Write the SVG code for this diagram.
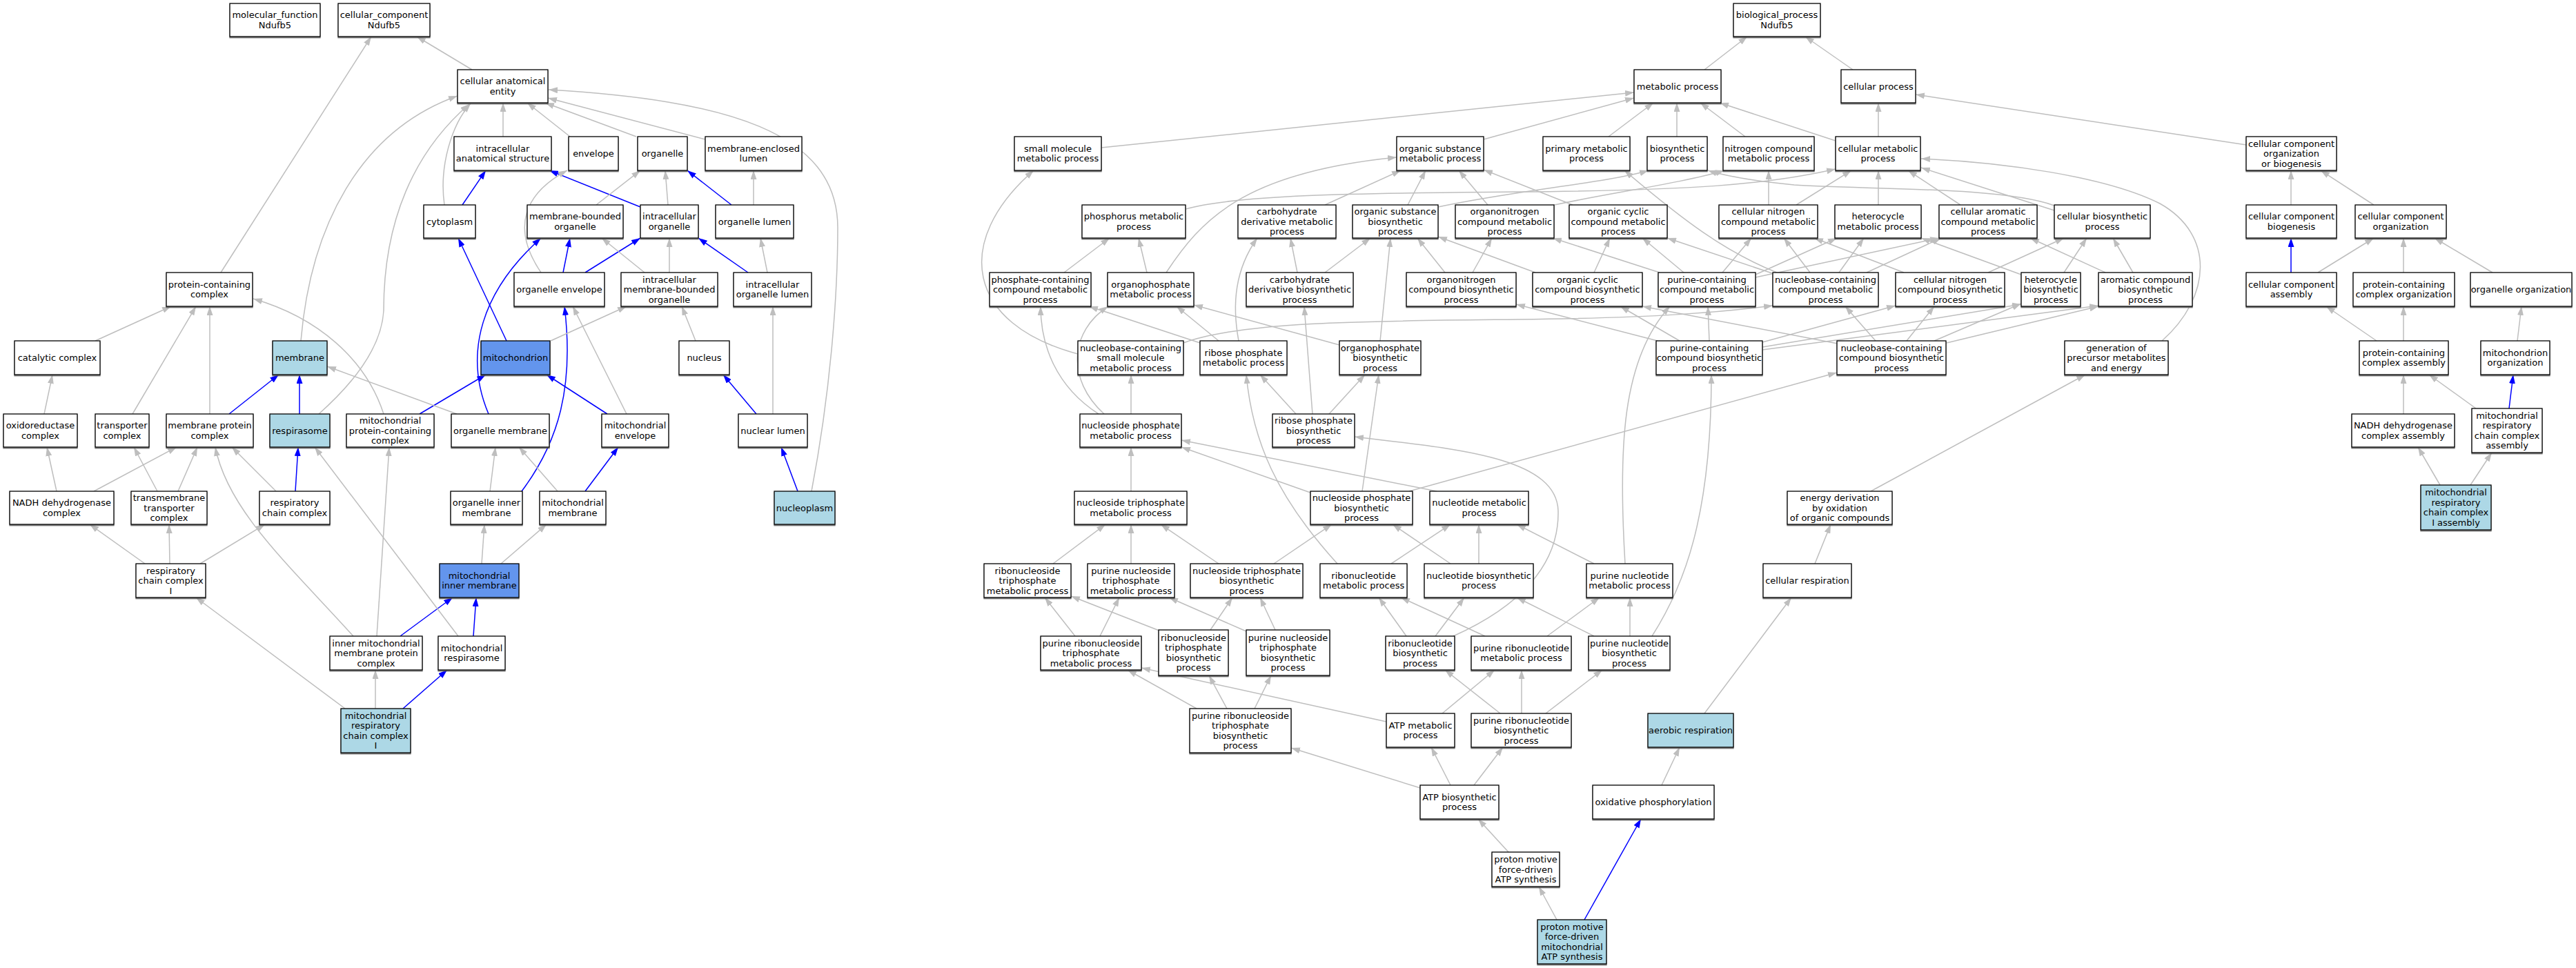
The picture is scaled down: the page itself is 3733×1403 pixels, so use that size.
<svg xmlns="http://www.w3.org/2000/svg" width="3733" height="1403" viewBox="0 0 3733 1403">
<defs>
<style>
.n rect{fill:#fff;stroke:#000;stroke-width:1.3;filter:url(#sh)}
.n.lb rect{fill:#add8e6}
.n.cb rect{fill:#6495ed}
text{font-family:"DejaVu Sans","Liberation Sans",sans-serif;font-size:13px;text-anchor:middle;fill:#000}
.g{fill:none;stroke:#bebebe;stroke-width:1.5;marker-end:url(#ag)}
.b{fill:none;stroke:#0000ff;stroke-width:1.5;marker-end:url(#ab)}
</style>
<filter id="sh" x="-5%" y="-10%" width="110%" height="130%"><feDropShadow dx="0" dy="1.5" stdDeviation="0" flood-color="#555"/></filter>
<marker id="ag" markerUnits="userSpaceOnUse" markerWidth="13" markerHeight="9" viewBox="0 0 13 9" refX="13" refY="4.5" orient="auto"><path d="M0,0 L13,4.5 L0,9 z" fill="#bebebe"/></marker>
<marker id="ab" markerUnits="userSpaceOnUse" markerWidth="13" markerHeight="9" viewBox="0 0 13 9" refX="13" refY="4.5" orient="auto"><path d="M0,0 L13,4.5 L0,9 z" fill="#0000ff"/></marker>
</defs>
<rect width="3733" height="1403" fill="#fff"/>
<g id="edges">
<path class="g" d="M684,101 L604,53"/>
<path class="g" d="M320,395 L538,53"/>
<path class="g" d="M729,198 L729,149"/>
<path class="g" d="M826,198 L764,149"/>
<path class="g" d="M922,198 L790,149"/>
<path class="g" d="M1022,202 L794,142"/>
<path class="g" d="M644,297 C636,240 655,180 682,150"/>
<path class="g" d="M436,494 C450,330 520,190 663,139"/>
<path class="g" d="M462,600 Q552,520 556,450 C556,320 600,220 680,151"/>
<path class="g" d="M1176,712 C1205,560 1214,420 1214,330 C1214,190 1050,145 795,130"/>
<path class="b" d="M670,297 L704,247"/>
<path class="b" d="M928,300 L796,247"/>
<path class="g" d="M968,297 L964,247"/>
<path class="g" d="M864,297 L928,247"/>
<path class="b" d="M1060,297 L996,247"/>
<path class="g" d="M1092,297 L1092,247"/>
<path class="g" d="M784,395 C740,330 760,280 822,247"/>
<path class="b" d="M816,395 L826,345"/>
<path class="b" d="M848,395 L928,345"/>
<path class="g" d="M934,395 L872,345"/>
<path class="g" d="M970,395 L970,345"/>
<path class="b" d="M1084,395 L1012,345"/>
<path class="g" d="M1112,395 L1102,345"/>
<path class="b" d="M734,494 L664,345"/>
<path class="b" d="M708,600 C670,510 700,420 784,345"/>
<path class="b" d="M756,712 C810,640 832,560 818,444"/>
<path class="g" d="M798,494 L908,444"/>
<path class="g" d="M908,600 L830,444"/>
<path class="b" d="M880,600 L792,543"/>
<path class="g" d="M1008,494 L988,444"/>
<path class="b" d="M1096,600 L1048,543"/>
<path class="g" d="M1120,600 L1120,444"/>
<path class="b" d="M1156,712 L1132,648"/>
<path class="b" d="M608,600 L704,543"/>
<path class="g" d="M556,600 C530,520 460,460 367,433"/>
<path class="g" d="M662,600 L474,531"/>
<path class="b" d="M332,600 L404,543"/>
<path class="b" d="M434,600 L434,543"/>
<path class="g" d="M304,600 L304,444"/>
<path class="g" d="M192,600 L284,444"/>
<path class="g" d="M138,494 L248,444"/>
<path class="g" d="M64,600 L76,543"/>
<path class="g" d="M82,712 L68,648"/>
<path class="g" d="M136,712 L256,648"/>
<path class="g" d="M228,712 L194,648"/>
<path class="g" d="M258,712 L286,648"/>
<path class="g" d="M400,712 L336,648"/>
<path class="b" d="M428,712 L432,648"/>
<path class="g" d="M210,817 L130,760"/>
<path class="g" d="M246,817 L245,760"/>
<path class="g" d="M290,817 L384,760"/>
<path class="g" d="M710,712 L718,648"/>
<path class="g" d="M808,712 L752,648"/>
<path class="b" d="M848,712 L896,648"/>
<path class="g" d="M698,817 L702,760"/>
<path class="g" d="M726,817 L792,760"/>
<path class="b" d="M580,922 L656,866"/>
<path class="g" d="M512,922 C420,820 330,740 312,648"/>
<path class="g" d="M546,922 L564,648"/>
<path class="b" d="M686,922 L690,866"/>
<path class="g" d="M664,922 L456,648"/>
<path class="g" d="M544,1027 L544,971"/>
<path class="b" d="M584,1027 L648,971"/>
<path class="g" d="M500,1027 L284,866"/>
<path class="g" d="M2470,101 L2532,53"/>
<path class="g" d="M2685,101 L2616,53"/>
<path class="g" d="M1596,214 L2368,134"/>
<path class="g" d="M2150,202 L2368,142"/>
<path class="g" d="M2331,198 L2396,149"/>
<path class="g" d="M2430,198 L2430,149"/>
<path class="g" d="M2529,198 L2464,149"/>
<path class="g" d="M2660,204 L2492,149"/>
<path class="g" d="M2722,198 L2722,149"/>
<path class="g" d="M3255,210 L2776,137"/>
<path class="g" d="M1718,303 C1800,280 2000,280 2200,278 C2450,276 2560,268 2660,245"/>
<path class="g" d="M1920,297 L2030,247"/>
<path class="g" d="M2040,297 L2066,247"/>
<path class="g" d="M2084,300 C2200,275 2330,265 2389,247"/>
<path class="g" d="M2156,297 L2114,247"/>
<path class="g" d="M2248,298 C2330,280 2440,265 2499,247"/>
<path class="g" d="M2279,297 L2150,246"/>
<path class="g" d="M2977,298 C2900,270 2700,275 2600,268 C2540,262 2500,255 2475,247"/>
<path class="g" d="M2563,297 L2563,247"/>
<path class="g" d="M2603,297 L2683,247"/>
<path class="g" d="M2722,297 L2722,247"/>
<path class="g" d="M2841,297 L2765,247"/>
<path class="g" d="M2977,305 L2784,243"/>
<path class="g" d="M3133,494 C3205,430 3210,340 3130,295 C3050,255 2900,235 2784,230"/>
<path class="g" d="M3320,297 L3320,247"/>
<path class="g" d="M3440,297 L3363,247"/>
<path class="g" d="M1542,395 L1608,345"/>
<path class="g" d="M1662,395 L1650,345"/>
<path class="g" d="M1690,395 C1740,320 1800,250 2024,228"/>
<path class="g" d="M1880,395 L1870,345"/>
<path class="g" d="M1920,395 L1986,345"/>
<path class="g" d="M2094,395 L2054,345"/>
<path class="g" d="M2134,395 L2162,345"/>
<path class="g" d="M2225,395 L2084,343"/>
<path class="g" d="M2310,395 L2333,345"/>
<path class="g" d="M2440,395 L2380,345"/>
<path class="g" d="M2405,395 L2250,345"/>
<path class="g" d="M2496,395 L2538,345"/>
<path class="g" d="M2544,398 L2662,345"/>
<path class="g" d="M2544,402 L2810,345"/>
<path class="g" d="M2623,395 L2585,345"/>
<path class="g" d="M2665,395 L2701,345"/>
<path class="g" d="M2705,395 L2813,345"/>
<path class="g" d="M2571,397 L2416,345"/>
<path class="g" d="M2575,395 C2500,365 2440,320 2354,247"/>
<path class="g" d="M2759,395 L2629,345"/>
<path class="g" d="M2881,395 L2991,345"/>
<path class="g" d="M2929,398 L2784,345"/>
<path class="g" d="M2991,395 L3024,345"/>
<path class="g" d="M3051,395 L2942,345"/>
<path class="g" d="M3091,395 L3062,345"/>
<path class="b" d="M3320,395 L3320,345"/>
<path class="g" d="M3359,395 L3440,345"/>
<path class="g" d="M3483,395 L3483,345"/>
<path class="g" d="M3612,395 L3528,345"/>
<path class="g" d="M1562,513 C1400,470 1380,350 1498,247"/>
<path class="g" d="M1715,497 C1800,465 2000,465 2200,463 C2400,461 2500,452 2569,443"/>
<path class="g" d="M1766,494 L1705,444"/>
<path class="g" d="M1795,494 C1785,440 1790,390 1822,345"/>
<path class="g" d="M1739,497 L1578,444"/>
<path class="g" d="M1941,500 L1730,442"/>
<path class="g" d="M2000,494 L2015,345"/>
<path class="g" d="M2477,494 L2475,444"/>
<path class="g" d="M2434,494 L2348,444"/>
<path class="g" d="M2402,494 L2197,441"/>
<path class="g" d="M2554,496 L2747,443"/>
<path class="g" d="M2554,503 L2929,441"/>
<path class="g" d="M2554,507 L3041,443"/>
<path class="g" d="M2718,494 L2674,444"/>
<path class="g" d="M2763,494 L2803,444"/>
<path class="g" d="M2803,494 L2929,440"/>
<path class="g" d="M2821,497 L3041,444"/>
<path class="g" d="M2663,498 L2380,444"/>
<path class="g" d="M2711,712 L3022,543"/>
<path class="g" d="M3444,494 L3371,444"/>
<path class="g" d="M3483,494 L3483,444"/>
<path class="g" d="M3648,494 L3654,444"/>
<path class="g" d="M1639,600 L1639,543"/>
<path class="g" d="M1592,600 C1530,560 1508,500 1508,444"/>
<path class="g" d="M1600,600 C1545,550 1550,480 1606,444"/>
<path class="g" d="M1878,600 L1826,543"/>
<path class="g" d="M1926,600 L1978,543"/>
<path class="g" d="M1902,600 L1890,444"/>
<path class="g" d="M3483,600 L3483,543"/>
<path class="g" d="M3588,592 L3520,543"/>
<path class="b" d="M3636,592 L3642,543"/>
<path class="g" d="M1639,712 L1639,648"/>
<path class="g" d="M1899,714 L1712,648"/>
<path class="g" d="M1974,712 L1998,543"/>
<path class="g" d="M2042,712 L2662,540"/>
<path class="g" d="M2082,712 L1712,638"/>
<path class="g" d="M3536,703 L3504,648"/>
<path class="g" d="M3580,703 L3611,656"/>
<path class="g" d="M1526,817 L1602,760"/>
<path class="g" d="M1639,817 L1639,760"/>
<path class="g" d="M1766,817 L1682,760"/>
<path class="g" d="M1846,817 L1930,760"/>
<path class="g" d="M2016,817 L2102,760"/>
<path class="g" d="M2143,817 L2143,760"/>
<path class="g" d="M2102,817 L2018,760"/>
<path class="g" d="M2310,817 L2198,760"/>
<path class="g" d="M2355,817 C2345,650 2350,520 2420,444"/>
<path class="g" d="M1938,817 C1850,720 1815,640 1806,543"/>
<path class="g" d="M2630,817 L2653,760"/>
<path class="g" d="M1558,922 L1514,866"/>
<path class="g" d="M1594,922 L1622,866"/>
<path class="g" d="M1680,914 L1552,864"/>
<path class="g" d="M1754,913 L1786,866"/>
<path class="g" d="M1806,915 L1694,866"/>
<path class="g" d="M1848,913 L1826,866"/>
<path class="g" d="M2038,922 L1998,866"/>
<path class="g" d="M2080,922 L2122,866"/>
<path class="g" d="M2152,922 L2030,866"/>
<path class="g" d="M2242,922 L2318,866"/>
<path class="g" d="M2310,922 L2198,866"/>
<path class="g" d="M2362,922 L2362,866"/>
<path class="g" d="M2394,922 C2440,850 2480,750 2480,543"/>
<path class="g" d="M2106,922 C2200,880 2260,820 2258,740 C2255,660 2100,650 1963,633"/>
<path class="g" d="M1734,1027 L1634,971"/>
<path class="g" d="M1778,1027 L1752,979"/>
<path class="g" d="M1818,1027 L1842,979"/>
<path class="g" d="M2009,1046 L1654,968"/>
<path class="g" d="M2090,1034 L2166,971"/>
<path class="g" d="M2174,1034 L2094,971"/>
<path class="g" d="M2205,1034 L2205,971"/>
<path class="g" d="M2240,1034 L2322,971"/>
<path class="g" d="M2102,1138 L2074,1083"/>
<path class="g" d="M2136,1138 L2178,1083"/>
<path class="g" d="M2058,1142 L1871,1084"/>
<path class="g" d="M2186,1235 L2142,1187"/>
<path class="g" d="M2256,1333 L2230,1285"/>
<path class="b" d="M2296,1333 L2378,1187"/>
<path class="g" d="M2408,1138 L2434,1083"/>
<path class="g" d="M2470,1034 L2596,866"/>
</g>
<g id="n_mf" class="n"><rect x="333" y="5" width="131" height="48"/><text><tspan x="398.5" y="26.25">molecular_function</tspan><tspan x="398.5" y="40.75">Ndufb5</tspan></text></g>
<g id="n_cc" class="n"><rect x="490" y="5" width="133" height="48"/><text><tspan x="556.5" y="26.25">cellular_component</tspan><tspan x="556.5" y="40.75">Ndufb5</tspan></text></g>
<g id="n_cae" class="n"><rect x="663" y="101" width="131" height="48"/><text><tspan x="728.5" y="122.25">cellular anatomical</tspan><tspan x="728.5" y="136.75">entity</tspan></text></g>
<g id="n_ias" class="n"><rect x="658" y="198" width="141" height="49"/><text><tspan x="728.5" y="219.75">intracellular</tspan><tspan x="728.5" y="234.25">anatomical structure</tspan></text></g>
<g id="n_env" class="n"><rect x="824" y="198" width="72" height="49"/><text x="860" y="227">envelope</text></g>
<g id="n_org" class="n"><rect x="924" y="198" width="72" height="49"/><text x="960" y="227">organelle</text></g>
<g id="n_mel" class="n"><rect x="1022" y="198" width="140" height="49"/><text><tspan x="1092" y="219.75">membrane-enclosed</tspan><tspan x="1092" y="234.25">lumen</tspan></text></g>
<g id="n_cyt" class="n"><rect x="614" y="297" width="75" height="48"/><text x="651.5" y="325.5">cytoplasm</text></g>
<g id="n_mbo" class="n"><rect x="764" y="297" width="139" height="48"/><text><tspan x="833.5" y="318.25">membrane-bounded</tspan><tspan x="833.5" y="332.75">organelle</tspan></text></g>
<g id="n_io" class="n"><rect x="928" y="297" width="84" height="48"/><text><tspan x="970" y="318.25">intracellular</tspan><tspan x="970" y="332.75">organelle</tspan></text></g>
<g id="n_ol" class="n"><rect x="1037" y="297" width="113" height="48"/><text x="1093.5" y="325.5">organelle lumen</text></g>
<g id="n_pcc" class="n"><rect x="241" y="395" width="125" height="49"/><text><tspan x="303.5" y="416.75">protein-containing</tspan><tspan x="303.5" y="431.25">complex</tspan></text></g>
<g id="n_oe" class="n"><rect x="745" y="395" width="131" height="49"/><text x="810.5" y="424">organelle envelope</text></g>
<g id="n_imbo" class="n"><rect x="900" y="395" width="140" height="49"/><text><tspan x="970" y="409.5">intracellular</tspan><tspan x="970" y="424">membrane-bounded</tspan><tspan x="970" y="438.5">organelle</tspan></text></g>
<g id="n_iol" class="n"><rect x="1063" y="395" width="113" height="49"/><text><tspan x="1119.5" y="416.75">intracellular</tspan><tspan x="1119.5" y="431.25">organelle lumen</tspan></text></g>
<g id="n_cat" class="n"><rect x="21" y="494" width="124" height="49"/><text x="83" y="523">catalytic complex</text></g>
<g id="n_mem" class="n lb"><rect x="395" y="494" width="79" height="49"/><text x="434.5" y="523">membrane</text></g>
<g id="n_mito" class="n cb"><rect x="697" y="494" width="100" height="49"/><text x="747" y="523">mitochondrion</text></g>
<g id="n_nuc" class="n"><rect x="984" y="494" width="73" height="49"/><text x="1020.5" y="523">nucleus</text></g>
<g id="n_oxc" class="n"><rect x="5" y="600" width="107" height="48"/><text><tspan x="58.5" y="621.25">oxidoreductase</tspan><tspan x="58.5" y="635.75">complex</tspan></text></g>
<g id="n_trc" class="n"><rect x="138" y="600" width="78" height="48"/><text><tspan x="177" y="621.25">transporter</tspan><tspan x="177" y="635.75">complex</tspan></text></g>
<g id="n_mpc" class="n"><rect x="241" y="600" width="126" height="48"/><text><tspan x="304" y="621.25">membrane protein</tspan><tspan x="304" y="635.75">complex</tspan></text></g>
<g id="n_resp" class="n lb"><rect x="391" y="600" width="87" height="48"/><text x="434.5" y="628.5">respirasome</text></g>
<g id="n_mpcc" class="n"><rect x="502" y="600" width="127" height="48"/><text><tspan x="565.5" y="614">mitochondrial</tspan><tspan x="565.5" y="628.5">protein-containing</tspan><tspan x="565.5" y="643">complex</tspan></text></g>
<g id="n_om" class="n"><rect x="654" y="600" width="142" height="48"/><text x="725" y="628.5">organelle membrane</text></g>
<g id="n_me" class="n"><rect x="872" y="600" width="97" height="48"/><text><tspan x="920.5" y="621.25">mitochondrial</tspan><tspan x="920.5" y="635.75">envelope</tspan></text></g>
<g id="n_nl" class="n"><rect x="1070" y="600" width="100" height="48"/><text x="1120" y="628.5">nuclear lumen</text></g>
<g id="n_nadh" class="n"><rect x="14" y="712" width="151" height="48"/><text><tspan x="89.5" y="733.25">NADH dehydrogenase</tspan><tspan x="89.5" y="747.75">complex</tspan></text></g>
<g id="n_tmtc" class="n"><rect x="190" y="712" width="110" height="48"/><text><tspan x="245" y="726">transmembrane</tspan><tspan x="245" y="740.5">transporter</tspan><tspan x="245" y="755">complex</tspan></text></g>
<g id="n_rcc" class="n"><rect x="376" y="712" width="102" height="48"/><text><tspan x="427" y="733.25">respiratory</tspan><tspan x="427" y="747.75">chain complex</tspan></text></g>
<g id="n_oim" class="n"><rect x="653" y="712" width="104" height="48"/><text><tspan x="705" y="733.25">organelle inner</tspan><tspan x="705" y="747.75">membrane</tspan></text></g>
<g id="n_mm" class="n"><rect x="782" y="712" width="96" height="48"/><text><tspan x="830" y="733.25">mitochondrial</tspan><tspan x="830" y="747.75">membrane</tspan></text></g>
<g id="n_np" class="n lb"><rect x="1122" y="712" width="88" height="48"/><text x="1166" y="740.5">nucleoplasm</text></g>
<g id="n_rcc1" class="n"><rect x="197" y="817" width="101" height="49"/><text><tspan x="247.5" y="831.5">respiratory</tspan><tspan x="247.5" y="846">chain complex</tspan><tspan x="247.5" y="860.5">I</tspan></text></g>
<g id="n_mim" class="n cb"><rect x="637" y="817" width="115" height="49"/><text><tspan x="694.5" y="838.75">mitochondrial</tspan><tspan x="694.5" y="853.25">inner membrane</tspan></text></g>
<g id="n_immpc" class="n"><rect x="478" y="922" width="134" height="49"/><text><tspan x="545" y="936.5">inner mitochondrial</tspan><tspan x="545" y="951">membrane protein</tspan><tspan x="545" y="965.5">complex</tspan></text></g>
<g id="n_mresp" class="n"><rect x="635" y="922" width="97" height="49"/><text><tspan x="683.5" y="943.75">mitochondrial</tspan><tspan x="683.5" y="958.25">respirasome</tspan></text></g>
<g id="n_mrcc1" class="n lb"><rect x="494" y="1027" width="101" height="64"/><text><tspan x="544.5" y="1041.75">mitochondrial</tspan><tspan x="544.5" y="1056.25">respiratory</tspan><tspan x="544.5" y="1070.75">chain complex</tspan><tspan x="544.5" y="1085.25">I</tspan></text></g>
<g id="n_bp" class="n"><rect x="2512" y="5" width="126" height="48"/><text><tspan x="2575" y="26.25">biological_process</tspan><tspan x="2575" y="40.75">Ndufb5</tspan></text></g>
<g id="n_mp" class="n"><rect x="2368" y="101" width="126" height="48"/><text x="2431" y="129.5">metabolic process</text></g>
<g id="n_cp" class="n"><rect x="2668" y="101" width="108" height="48"/><text x="2722" y="129.5">cellular process</text></g>
<g id="n_smmp" class="n"><rect x="1470" y="198" width="126" height="49"/><text><tspan x="1533" y="219.75">small molecule</tspan><tspan x="1533" y="234.25">metabolic process</tspan></text></g>
<g id="n_osmp" class="n"><rect x="2024" y="198" width="126" height="49"/><text><tspan x="2087" y="219.75">organic substance</tspan><tspan x="2087" y="234.25">metabolic process</tspan></text></g>
<g id="n_pmp" class="n"><rect x="2236" y="198" width="126" height="49"/><text><tspan x="2299" y="219.75">primary metabolic</tspan><tspan x="2299" y="234.25">process</tspan></text></g>
<g id="n_bsp" class="n"><rect x="2387" y="198" width="87" height="49"/><text><tspan x="2430.5" y="219.75">biosynthetic</tspan><tspan x="2430.5" y="234.25">process</tspan></text></g>
<g id="n_ncmp" class="n"><rect x="2497" y="198" width="132" height="49"/><text><tspan x="2563" y="219.75">nitrogen compound</tspan><tspan x="2563" y="234.25">metabolic process</tspan></text></g>
<g id="n_cmp" class="n"><rect x="2660" y="198" width="123" height="49"/><text><tspan x="2721.5" y="219.75">cellular metabolic</tspan><tspan x="2721.5" y="234.25">process</tspan></text></g>
<g id="n_ccoob" class="n"><rect x="3255" y="198" width="131" height="49"/><text><tspan x="3320.5" y="212.5">cellular component</tspan><tspan x="3320.5" y="227">organization</tspan><tspan x="3320.5" y="241.5">or biogenesis</tspan></text></g>
<g id="n_phmp" class="n"><rect x="1568" y="297" width="150" height="48"/><text><tspan x="1643" y="318.25">phosphorus metabolic</tspan><tspan x="1643" y="332.75">process</tspan></text></g>
<g id="n_cdmp" class="n"><rect x="1794" y="297" width="142" height="48"/><text><tspan x="1865" y="311">carbohydrate</tspan><tspan x="1865" y="325.5">derivative metabolic</tspan><tspan x="1865" y="340">process</tspan></text></g>
<g id="n_osbp" class="n"><rect x="1960" y="297" width="124" height="48"/><text><tspan x="2022" y="311">organic substance</tspan><tspan x="2022" y="325.5">biosynthetic</tspan><tspan x="2022" y="340">process</tspan></text></g>
<g id="n_oncmp" class="n"><rect x="2109" y="297" width="143" height="48"/><text><tspan x="2180.5" y="311">organonitrogen</tspan><tspan x="2180.5" y="325.5">compound metabolic</tspan><tspan x="2180.5" y="340">process</tspan></text></g>
<g id="n_occmp" class="n"><rect x="2274" y="297" width="142" height="48"/><text><tspan x="2345" y="311">organic cyclic</tspan><tspan x="2345" y="325.5">compound metabolic</tspan><tspan x="2345" y="340">process</tspan></text></g>
<g id="n_ccnmp" class="n"><rect x="2491" y="297" width="143" height="48"/><text><tspan x="2562.5" y="311">cellular nitrogen</tspan><tspan x="2562.5" y="325.5">compound metabolic</tspan><tspan x="2562.5" y="340">process</tspan></text></g>
<g id="n_hmp" class="n"><rect x="2659" y="297" width="125" height="48"/><text><tspan x="2721.5" y="318.25">heterocycle</tspan><tspan x="2721.5" y="332.75">metabolic process</tspan></text></g>
<g id="n_camp" class="n"><rect x="2810" y="297" width="142" height="48"/><text><tspan x="2881" y="311">cellular aromatic</tspan><tspan x="2881" y="325.5">compound metabolic</tspan><tspan x="2881" y="340">process</tspan></text></g>
<g id="n_cbp" class="n"><rect x="2977" y="297" width="139" height="48"/><text><tspan x="3046.5" y="318.25">cellular biosynthetic</tspan><tspan x="3046.5" y="332.75">process</tspan></text></g>
<g id="n_ccb" class="n"><rect x="3255" y="297" width="131" height="48"/><text><tspan x="3320.5" y="318.25">cellular component</tspan><tspan x="3320.5" y="332.75">biogenesis</tspan></text></g>
<g id="n_cco" class="n"><rect x="3413" y="297" width="132" height="48"/><text><tspan x="3479" y="318.25">cellular component</tspan><tspan x="3479" y="332.75">organization</tspan></text></g>
<g id="n_pcmp" class="n"><rect x="1434" y="395" width="147" height="49"/><text><tspan x="1507.5" y="409.5">phosphate-containing</tspan><tspan x="1507.5" y="424">compound metabolic</tspan><tspan x="1507.5" y="438.5">process</tspan></text></g>
<g id="n_opmp" class="n"><rect x="1605" y="395" width="125" height="49"/><text><tspan x="1667.5" y="416.75">organophosphate</tspan><tspan x="1667.5" y="431.25">metabolic process</tspan></text></g>
<g id="n_cdbp" class="n"><rect x="1806" y="395" width="155" height="49"/><text><tspan x="1883.5" y="409.5">carbohydrate</tspan><tspan x="1883.5" y="424">derivative biosynthetic</tspan><tspan x="1883.5" y="438.5">process</tspan></text></g>
<g id="n_oncbp" class="n"><rect x="2038" y="395" width="159" height="49"/><text><tspan x="2117.5" y="409.5">organonitrogen</tspan><tspan x="2117.5" y="424">compound biosynthetic</tspan><tspan x="2117.5" y="438.5">process</tspan></text></g>
<g id="n_occbp" class="n"><rect x="2221" y="395" width="159" height="49"/><text><tspan x="2300.5" y="409.5">organic cyclic</tspan><tspan x="2300.5" y="424">compound biosynthetic</tspan><tspan x="2300.5" y="438.5">process</tspan></text></g>
<g id="n_pccmp" class="n"><rect x="2403" y="395" width="141" height="49"/><text><tspan x="2473.5" y="409.5">purine-containing</tspan><tspan x="2473.5" y="424">compound metabolic</tspan><tspan x="2473.5" y="438.5">process</tspan></text></g>
<g id="n_ncbcmp" class="n"><rect x="2569" y="395" width="153" height="49"/><text><tspan x="2645.5" y="409.5">nucleobase-containing</tspan><tspan x="2645.5" y="424">compound metabolic</tspan><tspan x="2645.5" y="438.5">process</tspan></text></g>
<g id="n_ccnbp" class="n"><rect x="2747" y="395" width="158" height="49"/><text><tspan x="2826" y="409.5">cellular nitrogen</tspan><tspan x="2826" y="424">compound biosynthetic</tspan><tspan x="2826" y="438.5">process</tspan></text></g>
<g id="n_hbp" class="n"><rect x="2929" y="395" width="86" height="49"/><text><tspan x="2972" y="409.5">heterocycle</tspan><tspan x="2972" y="424">biosynthetic</tspan><tspan x="2972" y="438.5">process</tspan></text></g>
<g id="n_acbp" class="n"><rect x="3041" y="395" width="136" height="49"/><text><tspan x="3109" y="409.5">aromatic compound</tspan><tspan x="3109" y="424">biosynthetic</tspan><tspan x="3109" y="438.5">process</tspan></text></g>
<g id="n_cca" class="n"><rect x="3255" y="395" width="131" height="49"/><text><tspan x="3320.5" y="416.75">cellular component</tspan><tspan x="3320.5" y="431.25">assembly</tspan></text></g>
<g id="n_pcco" class="n"><rect x="3410" y="395" width="147" height="49"/><text><tspan x="3483.5" y="416.75">protein-containing</tspan><tspan x="3483.5" y="431.25">complex organization</tspan></text></g>
<g id="n_oo" class="n"><rect x="3580" y="395" width="147" height="49"/><text x="3653.5" y="424">organelle organization</text></g>
<g id="n_ncsmmp" class="n"><rect x="1562" y="494" width="153" height="49"/><text><tspan x="1638.5" y="508.5">nucleobase-containing</tspan><tspan x="1638.5" y="523">small molecule</tspan><tspan x="1638.5" y="537.5">metabolic process</tspan></text></g>
<g id="n_rpmp" class="n"><rect x="1739" y="494" width="126" height="49"/><text><tspan x="1802" y="515.75">ribose phosphate</tspan><tspan x="1802" y="530.25">metabolic process</tspan></text></g>
<g id="n_opbp" class="n"><rect x="1941" y="494" width="118" height="49"/><text><tspan x="2000" y="508.5">organophosphate</tspan><tspan x="2000" y="523">biosynthetic</tspan><tspan x="2000" y="537.5">process</tspan></text></g>
<g id="n_pccbp" class="n"><rect x="2400" y="494" width="154" height="49"/><text><tspan x="2477" y="508.5">purine-containing</tspan><tspan x="2477" y="523">compound biosynthetic</tspan><tspan x="2477" y="537.5">process</tspan></text></g>
<g id="n_ncbcbp" class="n"><rect x="2662" y="494" width="158" height="49"/><text><tspan x="2741" y="508.5">nucleobase-containing</tspan><tspan x="2741" y="523">compound biosynthetic</tspan><tspan x="2741" y="537.5">process</tspan></text></g>
<g id="n_gpme" class="n"><rect x="2992" y="494" width="150" height="49"/><text><tspan x="3067" y="508.5">generation of</tspan><tspan x="3067" y="523">precursor metabolites</tspan><tspan x="3067" y="537.5">and energy</tspan></text></g>
<g id="n_pcca" class="n"><rect x="3419" y="494" width="129" height="49"/><text><tspan x="3483.5" y="515.75">protein-containing</tspan><tspan x="3483.5" y="530.25">complex assembly</tspan></text></g>
<g id="n_mo" class="n"><rect x="3595" y="494" width="100" height="49"/><text><tspan x="3645" y="515.75">mitochondrion</tspan><tspan x="3645" y="530.25">organization</tspan></text></g>
<g id="n_npmp" class="n"><rect x="1565" y="600" width="147" height="48"/><text><tspan x="1638.5" y="621.25">nucleoside phosphate</tspan><tspan x="1638.5" y="635.75">metabolic process</tspan></text></g>
<g id="n_rpbp" class="n"><rect x="1844" y="600" width="119" height="48"/><text><tspan x="1903.5" y="614">ribose phosphate</tspan><tspan x="1903.5" y="628.5">biosynthetic</tspan><tspan x="1903.5" y="643">process</tspan></text></g>
<g id="n_nadha" class="n"><rect x="3408" y="600" width="149" height="48"/><text><tspan x="3482.5" y="621.25">NADH dehydrogenase</tspan><tspan x="3482.5" y="635.75">complex assembly</tspan></text></g>
<g id="n_mrcca" class="n"><rect x="3582" y="592" width="102" height="64"/><text><tspan x="3633" y="606.75">mitochondrial</tspan><tspan x="3633" y="621.25">respiratory</tspan><tspan x="3633" y="635.75">chain complex</tspan><tspan x="3633" y="650.25">assembly</tspan></text></g>
<g id="n_ntmp" class="n"><rect x="1557" y="712" width="163" height="48"/><text><tspan x="1638.5" y="733.25">nucleoside triphosphate</tspan><tspan x="1638.5" y="747.75">metabolic process</tspan></text></g>
<g id="n_npbp" class="n"><rect x="1899" y="712" width="148" height="48"/><text><tspan x="1973" y="726">nucleoside phosphate</tspan><tspan x="1973" y="740.5">biosynthetic</tspan><tspan x="1973" y="755">process</tspan></text></g>
<g id="n_nmp" class="n"><rect x="2072" y="712" width="143" height="48"/><text><tspan x="2143.5" y="733.25">nucleotide metabolic</tspan><tspan x="2143.5" y="747.75">process</tspan></text></g>
<g id="n_edo" class="n"><rect x="2590" y="712" width="152" height="48"/><text><tspan x="2666" y="726">energy derivation</tspan><tspan x="2666" y="740.5">by oxidation</tspan><tspan x="2666" y="755">of organic compounds</tspan></text></g>
<g id="n_mrcc1a" class="n lb"><rect x="3508" y="703" width="102" height="65"/><text><tspan x="3559" y="718.25">mitochondrial</tspan><tspan x="3559" y="732.75">respiratory</tspan><tspan x="3559" y="747.25">chain complex</tspan><tspan x="3559" y="761.75">I assembly</tspan></text></g>
<g id="n_rntmp" class="n"><rect x="1426" y="817" width="126" height="49"/><text><tspan x="1489" y="831.5">ribonucleoside</tspan><tspan x="1489" y="846">triphosphate</tspan><tspan x="1489" y="860.5">metabolic process</tspan></text></g>
<g id="n_pntmp" class="n"><rect x="1576" y="817" width="126" height="49"/><text><tspan x="1639" y="831.5">purine nucleoside</tspan><tspan x="1639" y="846">triphosphate</tspan><tspan x="1639" y="860.5">metabolic process</tspan></text></g>
<g id="n_ntbp" class="n"><rect x="1725" y="817" width="163" height="49"/><text><tspan x="1806.5" y="831.5">nucleoside triphosphate</tspan><tspan x="1806.5" y="846">biosynthetic</tspan><tspan x="1806.5" y="860.5">process</tspan></text></g>
<g id="n_rnmp" class="n"><rect x="1913" y="817" width="126" height="49"/><text><tspan x="1976" y="838.75">ribonucleotide</tspan><tspan x="1976" y="853.25">metabolic process</tspan></text></g>
<g id="n_nbp" class="n"><rect x="2064" y="817" width="158" height="49"/><text><tspan x="2143" y="838.75">nucleotide biosynthetic</tspan><tspan x="2143" y="853.25">process</tspan></text></g>
<g id="n_pnmp" class="n"><rect x="2299" y="817" width="125" height="49"/><text><tspan x="2361.5" y="838.75">purine nucleotide</tspan><tspan x="2361.5" y="853.25">metabolic process</tspan></text></g>
<g id="n_cr" class="n"><rect x="2555" y="817" width="128" height="49"/><text x="2619" y="846">cellular respiration</text></g>
<g id="n_prntmp" class="n"><rect x="1508" y="922" width="146" height="49"/><text><tspan x="1581" y="936.5">purine ribonucleoside</tspan><tspan x="1581" y="951">triphosphate</tspan><tspan x="1581" y="965.5">metabolic process</tspan></text></g>
<g id="n_rntbp" class="n"><rect x="1679" y="913" width="101" height="66"/><text><tspan x="1729.5" y="928.75">ribonucleoside</tspan><tspan x="1729.5" y="943.25">triphosphate</tspan><tspan x="1729.5" y="957.75">biosynthetic</tspan><tspan x="1729.5" y="972.25">process</tspan></text></g>
<g id="n_pntbp" class="n"><rect x="1806" y="913" width="121" height="66"/><text><tspan x="1866.5" y="928.75">purine nucleoside</tspan><tspan x="1866.5" y="943.25">triphosphate</tspan><tspan x="1866.5" y="957.75">biosynthetic</tspan><tspan x="1866.5" y="972.25">process</tspan></text></g>
<g id="n_rnbp" class="n"><rect x="2008" y="922" width="100" height="49"/><text><tspan x="2058" y="936.5">ribonucleotide</tspan><tspan x="2058" y="951">biosynthetic</tspan><tspan x="2058" y="965.5">process</tspan></text></g>
<g id="n_prnmp" class="n"><rect x="2132" y="922" width="145" height="49"/><text><tspan x="2204.5" y="943.75">purine ribonucleotide</tspan><tspan x="2204.5" y="958.25">metabolic process</tspan></text></g>
<g id="n_pnbp" class="n"><rect x="2302" y="922" width="118" height="49"/><text><tspan x="2361" y="936.5">purine nucleotide</tspan><tspan x="2361" y="951">biosynthetic</tspan><tspan x="2361" y="965.5">process</tspan></text></g>
<g id="n_prntbp" class="n"><rect x="1724" y="1027" width="147" height="64"/><text><tspan x="1797.5" y="1041.75">purine ribonucleoside</tspan><tspan x="1797.5" y="1056.25">triphosphate</tspan><tspan x="1797.5" y="1070.75">biosynthetic</tspan><tspan x="1797.5" y="1085.25">process</tspan></text></g>
<g id="n_atpmp" class="n"><rect x="2009" y="1034" width="99" height="49"/><text><tspan x="2058.5" y="1055.75">ATP metabolic</tspan><tspan x="2058.5" y="1070.25">process</tspan></text></g>
<g id="n_prnbp" class="n"><rect x="2132" y="1034" width="145" height="49"/><text><tspan x="2204.5" y="1048.5">purine ribonucleotide</tspan><tspan x="2204.5" y="1063">biosynthetic</tspan><tspan x="2204.5" y="1077.5">process</tspan></text></g>
<g id="n_aer" class="n lb"><rect x="2388" y="1034" width="124" height="49"/><text x="2450" y="1063">aerobic respiration</text></g>
<g id="n_atpbp" class="n"><rect x="2058" y="1138" width="114" height="49"/><text><tspan x="2115" y="1159.75">ATP biosynthetic</tspan><tspan x="2115" y="1174.25">process</tspan></text></g>
<g id="n_oxp" class="n"><rect x="2308" y="1138" width="176" height="49"/><text x="2396" y="1167">oxidative phosphorylation</text></g>
<g id="n_pmf" class="n"><rect x="2162" y="1235" width="98" height="50"/><text><tspan x="2211" y="1250">proton motive</tspan><tspan x="2211" y="1264.5">force-driven</tspan><tspan x="2211" y="1279">ATP synthesis</tspan></text></g>
<g id="n_pmfm" class="n lb"><rect x="2228" y="1333" width="100" height="64"/><text><tspan x="2278" y="1347.75">proton motive</tspan><tspan x="2278" y="1362.25">force-driven</tspan><tspan x="2278" y="1376.75">mitochondrial</tspan><tspan x="2278" y="1391.25">ATP synthesis</tspan></text></g>
</svg>
